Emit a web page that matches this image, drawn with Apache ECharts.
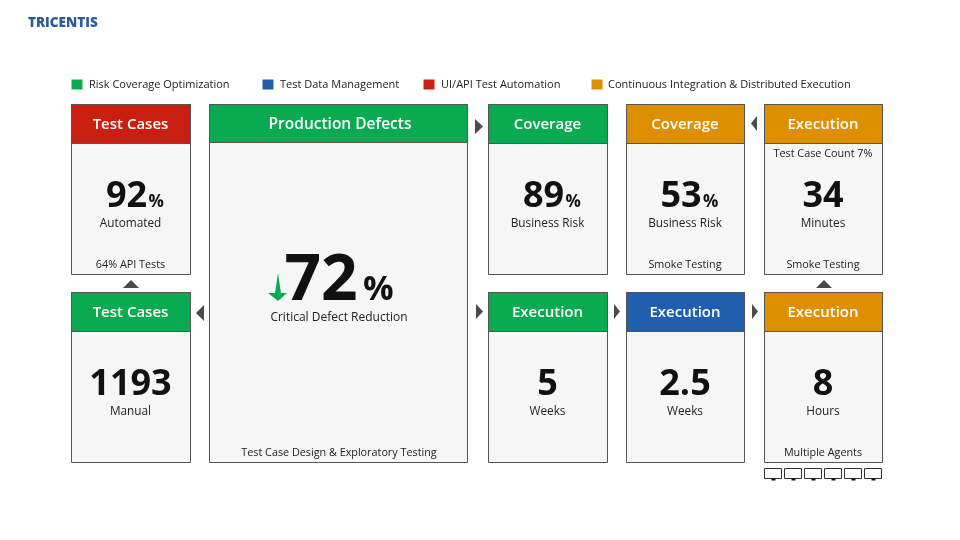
<!DOCTYPE html>
<html lang="en">
<head>
    <meta charset="UTF-8">
    <title>Tricentis Results</title>
    <script src="https://cdn.jsdelivr.net/npm/echarts@6/dist/echarts.min.js"></script>
    <style>
        html, body { margin: 0; padding: 0; background: #fff; }
        #main { width: 960px; height: 540px; }
    </style>
</head>
<body>
    <div id="main"></div>
    <script>
        // legend
        var legendLabels = ['Risk Coverage Optimization', 'Test Data Management', 'UI/API Test Automation', 'Continuous Integration & Distributed Execution'];

        // one entry per card
        var cardHeaders = ['Test Cases', 'Production Defects', 'Coverage', 'Coverage', 'Execution', 'Test Cases', 'Execution', 'Execution', 'Execution'];
        var cardValues = ['92', '72', '89', '53', '34', '1193', '5', '2.5', '8'];
        var cardUnits = ['%', '%', '%', '%', '', '', '', '', ''];
        var cardCaptions = ['Automated', 'Critical Defect Reduction', 'Business Risk', 'Business Risk', 'Minutes', 'Manual', 'Weeks', 'Weeks', 'Hours'];
        var cardNotes = ['64% API Tests', 'Test Case Design & Exploratory Testing', '', 'Smoke Testing', 'Smoke Testing', '', '', '', 'Multiple Agents'];
        var topNote = 'Test Case Count 7%';
        var agentCount = 6;

        // layout and colours
        var GREEN = '#0aab50', BLUE = '#1f5fae', RED = '#c91f10', ORANGE = '#de8f00';
        var legendColors = [GREEN, BLUE, RED, ORANGE];
        var legendX = [71, 262, 423, 591];
        var legendTextX = [89, 280, 441, 608];
        var cardColors = [RED, GREEN, GREEN, ORANGE, ORANGE, GREEN, GREEN, BLUE, ORANGE];
        var cardX = [71, 209, 488, 626, 764, 71, 488, 626, 764];
        var cardW = [119, 258, 119, 118, 118, 119, 119, 118, 118];
        var cardY = [104, 104, 104, 104, 104, 292, 292, 292, 292];
        var cardH = [170, 358, 170, 170, 170, 170, 170, 170, 170];
        var FONT = '"Open Sans", sans-serif';
        var BORDER = '#555';

        var elements = [];

        function text(str, x, y, size, weight, color, align) {
            elements.push({
                type: 'text',
                style: {
                    text: str, x: x, y: y,
                    font: weight + ' ' + size + 'px ' + FONT,
                    fill: color,
                    textAlign: align || 'center',
                    textVerticalAlign: 'middle'
                }
            });
        }

        // big figures are placed by their baseline
        function figure(str, x, base, size, align) {
            text(str, x, base - size * 0.28, size, 700, '#111', align);
        }

        function rect(x, y, w, h, fill, stroke) {
            elements.push({
                type: 'rect',
                shape: { x: x + 0.5, y: y + 0.5, width: w, height: h },
                style: { fill: fill, stroke: stroke || null, lineWidth: stroke ? 1 : 0 }
            });
        }

        function poly(points, fill) {
            elements.push({ type: 'polygon', shape: { points: points }, style: { fill: fill } });
        }

        // logo
        text('TRICENTIS', 28, 23, 13.5, 800, '#2a5d96', 'left');

        // legend row
        legendLabels.forEach(function (label, i) {
            rect(legendX[i], 79, 11, 10, legendColors[i]);
            text(label, legendTextX[i], 85, 11, 400, '#222', 'left');
        });

        // cards
        cardHeaders.forEach(function (header, i) {
            var x = cardX[i], y = cardY[i], w = cardW[i], h = cardH[i];
            var cx = x + w / 2;
            var big = i === 1;
            rect(x, y, w, h, '#f6f6f6', BORDER);
            rect(x, y, w, big ? 38 : 39, cardColors[i], BORDER);
            text(header, cx + (big ? 2 : 0), y + 21, big ? 15.5 : 15, 600, '#fff');

            if (big) {
                figure(cardValues[i], 321, 300, 64, 'center');
                figure(cardUnits[i], 363, 300, 34, 'left');
                text(cardCaptions[i], 339, 318, 12, 400, '#222');
                text(cardNotes[i], 339, 453, 10.8, 400, '#222');
                return;
            }
            var base = y + 103;
            if (cardUnits[i]) {
                figure(cardValues[i], cx - 4, base, 36, 'center');
                figure(cardUnits[i], cx + 18, base, 17, 'left');
            } else {
                figure(cardValues[i], cx, base, 36, 'center');
            }
            text(cardCaptions[i], cx, y + 120, 11.8, 400, '#222');
            if (cardNotes[i]) {
                text(cardNotes[i], cx, y + 161, 10.8, 400, '#222');
            }
        });
        text(topNote, 823, 154, 10.8, 400, '#222');

        // connector arrows
        var ARROW = '#4a4a4a';
        poly([[475, 119], [483, 126.5], [475, 134]], ARROW);
        poly([[757, 116], [751, 123.5], [757, 131]], ARROW);
        poly([[204, 305], [196, 313], [204, 321]], ARROW);
        poly([[476, 304], [483, 311.5], [476, 319]], ARROW);
        poly([[614, 304], [620, 311.5], [614, 319]], ARROW);
        poly([[752, 304], [758, 311.5], [752, 319]], ARROW);
        poly([[123, 288], [131, 280], [139, 288]], ARROW);
        poly([[816, 288], [824, 280], [832, 288]], ARROW);

        // green down arrow beside the 72
        poly([[278, 273], [281, 293], [287, 293], [278, 301], [268, 293], [275, 293]], GREEN);

        // agent monitors
        for (var m = 0; m < agentCount; m++) {
            var mx = 764 + m * 20;
            rect(mx, 468, 17, 10, '#fff', '#333');
            rect(mx + 7, 478, 4, 2, '#111');
        }

        var myChart = echarts.init(document.getElementById('main'));
        myChart.setOption({
            backgroundColor: '#fff',
            animation: false,
            graphic: { elements: elements }
        });
    </script>
</body>
</html>
